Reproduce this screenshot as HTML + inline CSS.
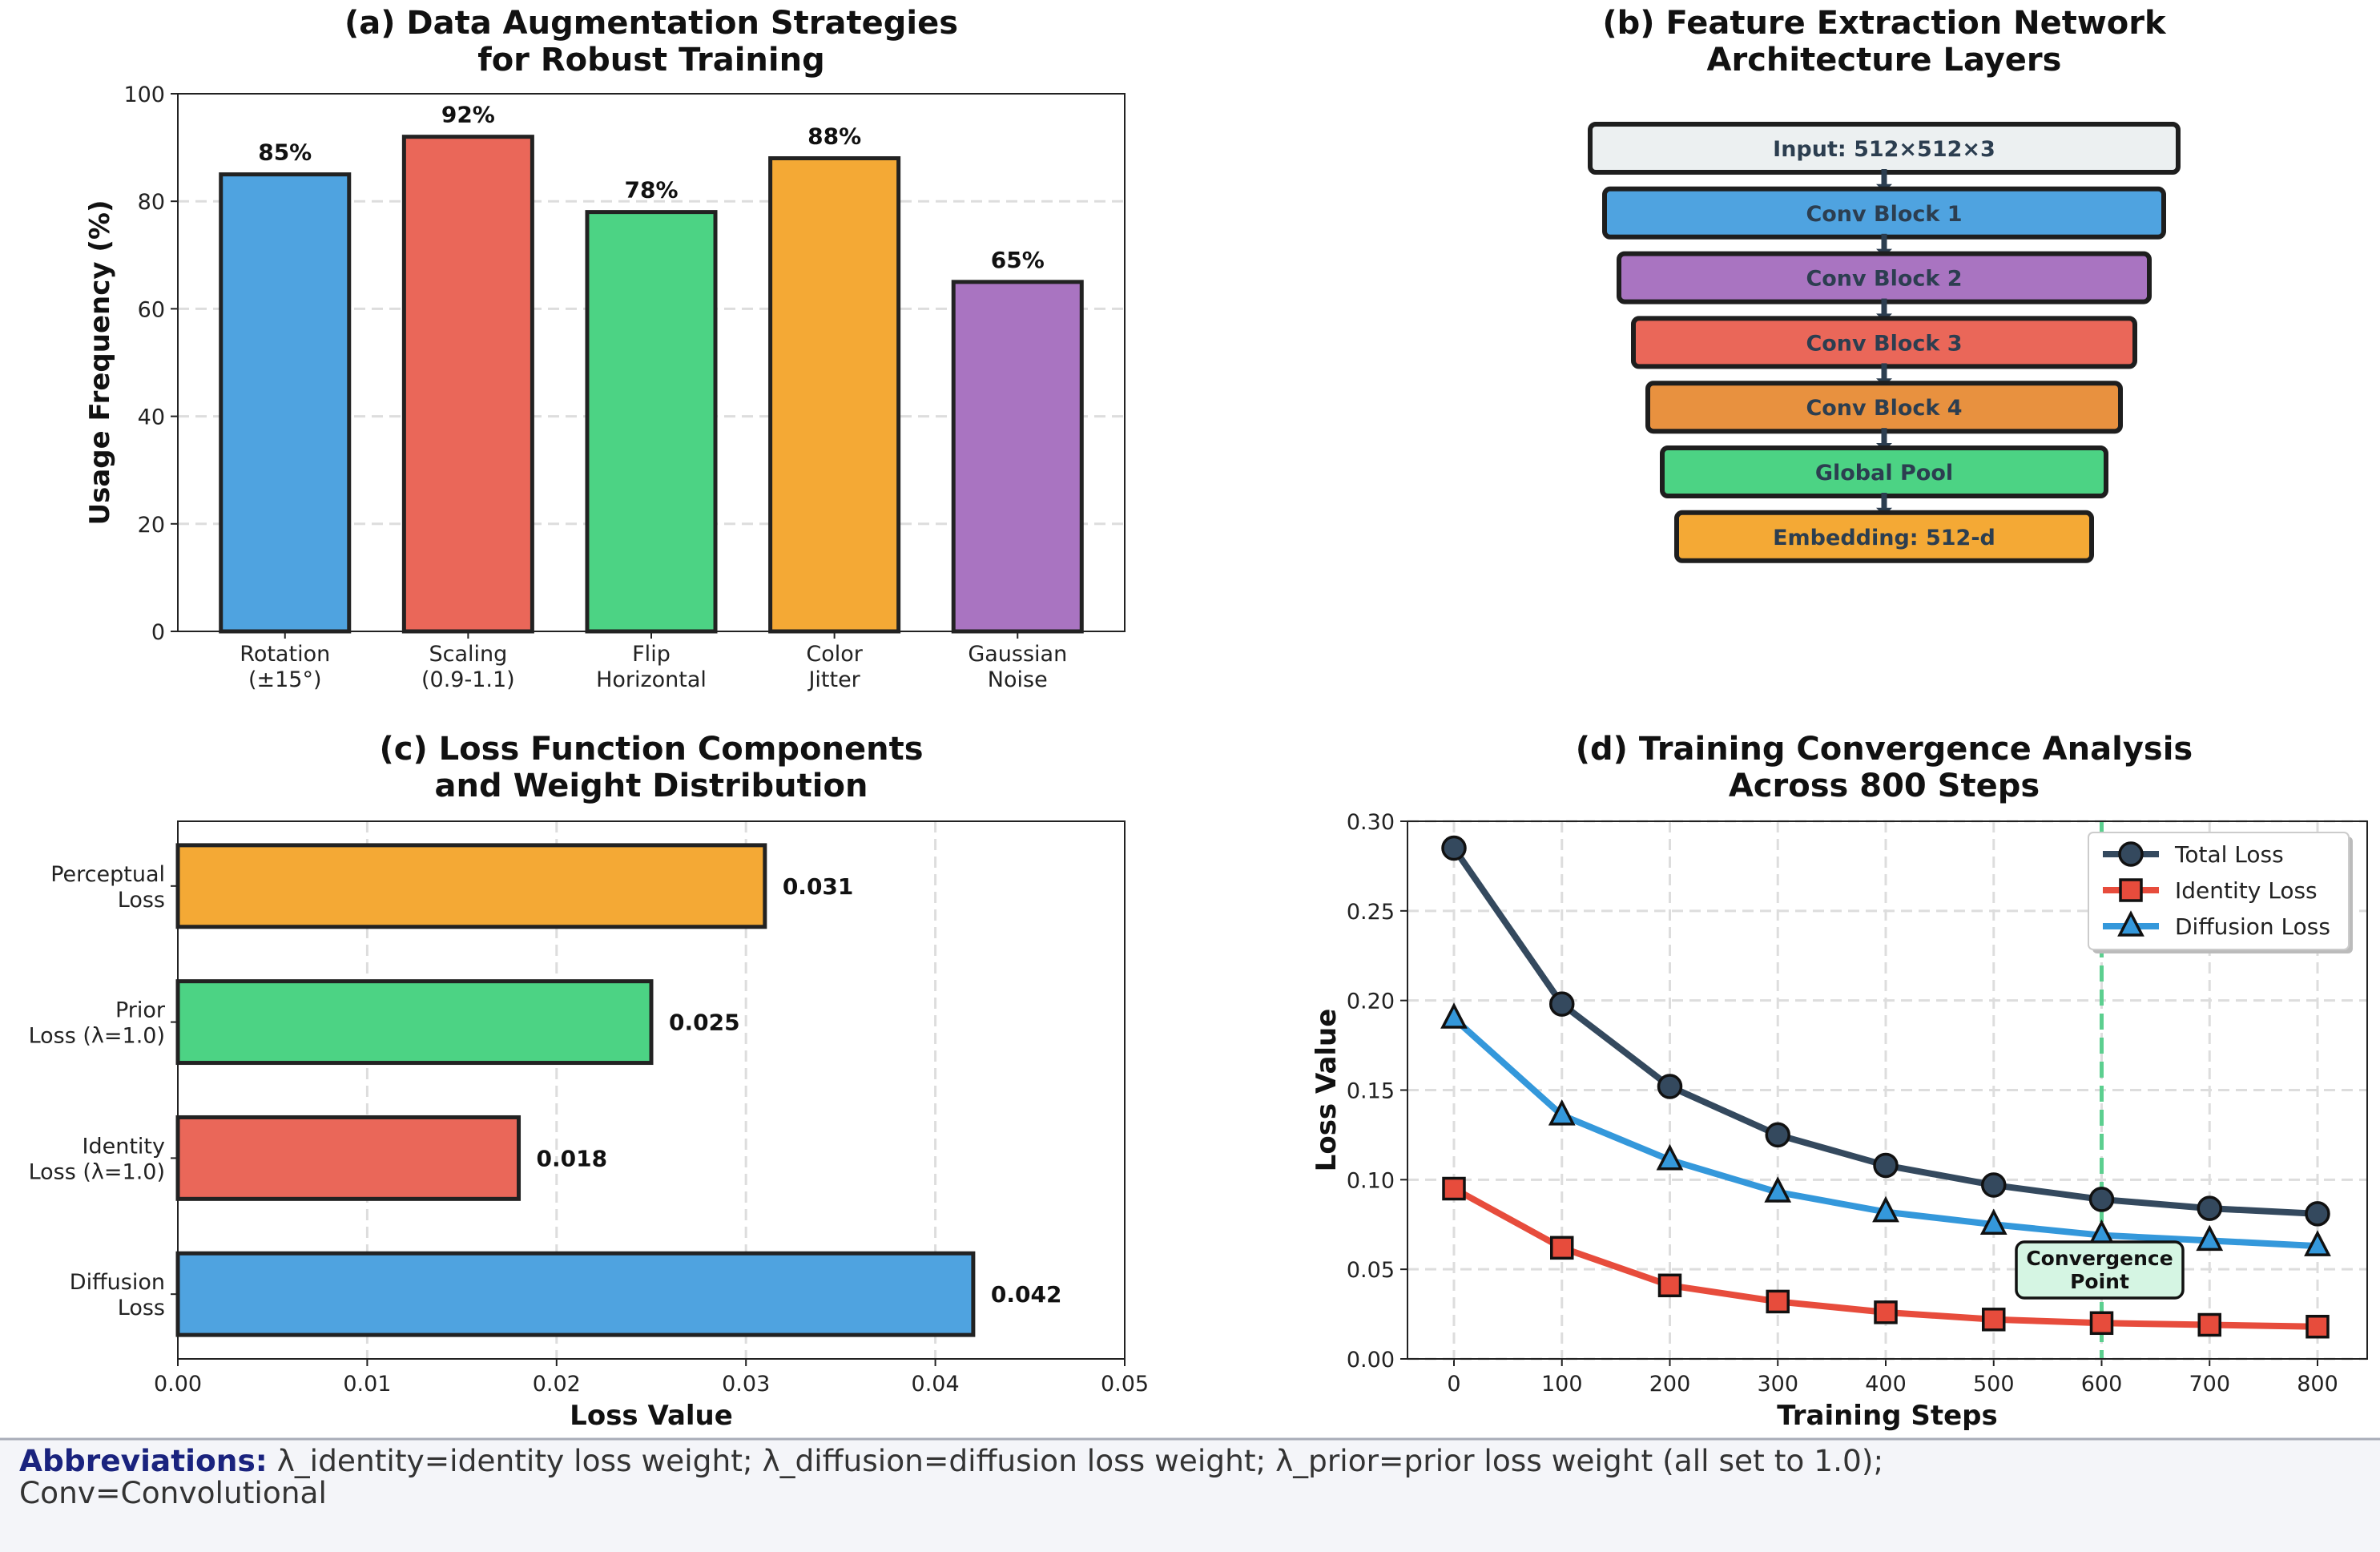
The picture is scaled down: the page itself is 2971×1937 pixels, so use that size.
<!DOCTYPE html>
<html><head><meta charset="utf-8">
<style>
html,body{margin:0;padding:0;background:#fff;}
svg{display:block;font-family:"DejaVu Sans","Liberation Sans",sans-serif;}
</style></head>
<body>
<svg id="fig" width="2971" height="1937" viewBox="0 0 2971 1937" xmlns="http://www.w3.org/2000/svg">
<rect x="0" y="0" width="2971" height="1937" fill="#fff"/>
<g id="pa"></g>
<g id="pb"></g>
<g id="pc"></g>
<g id="pd"></g>
<g>
<rect x="0" y="1795" width="2971" height="142" fill="#f4f5f9"/>
<line x1="0" y1="1796" x2="2971" y2="1796" stroke="#a8adb8" stroke-width="3"/>
<text x="24" y="1836" font-size="37.5" fill="#333"><tspan font-weight="bold" fill="#1a237e">Abbreviations:</tspan> λ_identity=identity loss weight; λ_diffusion=diffusion loss weight; λ_prior=prior loss weight (all set to 1.0);</text>
<text x="24" y="1876" font-size="37.5" fill="#333">Conv=Convolutional</text>
</g>
</svg>
<script>
// Panel A data
const augCategories = ["Rotation\n(±15°)", "Scaling\n(0.9-1.1)", "Flip\nHorizontal", "Color\nJitter", "Gaussian\nNoise"];
const augValues = [85, 92, 78, 88, 65];
const augColors = ["#4fa3e0", "#ea6759", "#4cd384", "#f4a935", "#a974c1"];
const augTicks = [0, 20, 40, 60, 80, 100];
// Panel B data
const layerNames = ["Input: 512×512×3", "Conv Block 1", "Conv Block 2", "Conv Block 3", "Conv Block 4", "Global Pool", "Embedding: 512-d"];
const layerColors = ["#ecf0f1", "#4fa3e0", "#a974c1", "#ea6759", "#e8913f", "#4cd384", "#f4a935"];
// Panel C data
const lossNames = ["Diffusion\nLoss", "Identity\nLoss (λ=1.0)", "Prior\nLoss (λ=1.0)", "Perceptual\nLoss"];
const lossValues = [0.042, 0.018, 0.025, 0.031];
const lossColors = ["#4fa3e0", "#ea6759", "#4cd384", "#f4a935"];
const lossTicks = [0, 0.01, 0.02, 0.03, 0.04, 0.05];
// Panel D data
const steps = [0, 100, 200, 300, 400, 500, 600, 700, 800];
const totalLoss = [0.285, 0.198, 0.152, 0.125, 0.108, 0.097, 0.089, 0.084, 0.081];
const identityLoss = [0.095, 0.062, 0.041, 0.032, 0.026, 0.022, 0.020, 0.019, 0.018];
const diffusionLoss = [0.190, 0.136, 0.111, 0.093, 0.082, 0.075, 0.069, 0.066, 0.063];
const dYTicks = [0, 0.05, 0.10, 0.15, 0.20, 0.25, 0.30];
const dXTicks = [0, 100, 200, 300, 400, 500, 600, 700, 800];
const convergenceStep = 600;

const NS = "http://www.w3.org/2000/svg";
function mk(parent, tag, attrs, text) {
  const e = document.createElementNS(NS, tag);
  for (const k in attrs) e.setAttribute(k, attrs[k]);
  if (text !== undefined) e.textContent = text;
  parent.appendChild(e);
  return e;
}
function multiText(parent, x, y, lines, size, anchor, lh, extra) {
  const t = mk(parent, "text", Object.assign({x: x, y: y, "font-size": size, "text-anchor": anchor, fill: "#222"}, extra || {}));
  lines.forEach((l, i) => { mk(t, "tspan", {x: x, dy: i === 0 ? 0 : lh}, l); });
  return t;
}

// ---------- Panel A ----------
(function () {
  const g = document.getElementById("pa");
  const L = 222, R = 1404, T = 117, B = 788;
  const n = augValues.length;
  const xs = i => L + (i + 0.585) / (n - 1 + 1.17) * (R - L);
  const ys = v => B - v / 100 * (B - T);
  const bw = 0.7 / (n - 1 + 1.17) * (R - L);
  const t1 = mk(g, "text", {x: 813, y: 42, "font-size": 40, "font-weight": "bold", "text-anchor": "middle", fill: "#111"}, "(a) Data Augmentation Strategies");
  
  const t2 = mk(g, "text", {x: 813, y: 88, "font-size": 40, "font-weight": "bold", "text-anchor": "middle", fill: "#111"}, "for Robust Training");
  
  augTicks.forEach(v => {
    if (v > 0 && v < 100) {
      const gl = mk(g, "line", {x1: L, x2: R, y1: ys(v), y2: ys(v), stroke: "#ddd", "stroke-width": 3, "stroke-dasharray": "14,8"});
      
    }
    mk(g, "line", {x1: L - 9, x2: L, y1: ys(v), y2: ys(v), stroke: "#222", "stroke-width": 2});
    const tl = mk(g, "text", {x: L - 16, y: ys(v) + 10, "font-size": 27, "text-anchor": "end", fill: "#222"}, String(v));
    
  });
  augValues.forEach((v, i) => {
    const b = mk(g, "rect", {x: xs(i) - bw / 2, y: ys(v), width: bw, height: ys(0) - ys(v), fill: augColors[i], stroke: "#222", "stroke-width": 5});
    
    
    const vl = mk(g, "text", {x: xs(i), y: ys(v) - 18, "font-size": 28, "font-weight": "bold", "text-anchor": "middle", fill: "#111"}, v + "%");
    
    mk(g, "line", {x1: xs(i), x2: xs(i), y1: B, y2: B + 9, stroke: "#222", "stroke-width": 2});
    const cl = multiText(g, xs(i), B + 37, augCategories[i].split("\n"), 27, "middle", 32);
    
  });
  const fr = mk(g, "rect", {x: L, y: T, width: R - L, height: B - T, fill: "none", stroke: "#222", "stroke-width": 2});
  
  const yl = mk(g, "text", {x: 0, y: 0, "font-size": 34, "font-weight": "bold", "text-anchor": "middle", fill: "#111", transform: "translate(136," + ((T + B) / 2) + ") rotate(-90)"}, "Usage Frequency (%)");
  
})();

// ---------- Panel B ----------
(function () {
  const g = document.getElementById("pb");
  const cx = 2352;
  const t1 = mk(g, "text", {x: cx, y: 42, "font-size": 40, "font-weight": "bold", "text-anchor": "middle", fill: "#111"}, "(b) Feature Extraction Network");
  
  const t2 = mk(g, "text", {x: cx, y: 88, "font-size": 40, "font-weight": "bold", "text-anchor": "middle", fill: "#111"}, "Architecture Layers");
  
  const top0 = 155, step = 80.8, h = 60, w0 = 734, dw = 36;
  layerNames.forEach((name, i) => {
    const w = w0 - i * dw;
    const y = top0 + i * step;
    if (i > 0) {
      const a = mk(g, "line", {x1: cx, x2: cx, y1: y - step + h - 4, y2: y + 2, stroke: "#2c3e50", "stroke-width": 7});
      
      const ah = mk(g, "polygon", {points: (cx - 10) + "," + (y - 6) + " " + (cx + 10) + "," + (y - 6) + " " + cx + "," + (y + 4), fill: "#2c3e50"});
      
    }
    const r = mk(g, "rect", {x: cx - w / 2, y: y, width: w, height: h, rx: 7, fill: layerColors[i], stroke: "#1e1e1e", "stroke-width": 6});
    
    
    const t = mk(g, "text", {x: cx, y: y + h / 2 + 10, "font-size": 27, "font-weight": "bold", "text-anchor": "middle", fill: "#2c3e50"}, name);
    
  });
})();

// ---------- Panel C ----------
(function () {
  const g = document.getElementById("pc");
  const L = 222, R = 1404, T = 1025, B = 1696;
  const xs = v => L + v / 0.05 * (R - L);
  const n = lossValues.length;
  const m = 0.476;
  const ys = i => B - (i + m) / (n - 1 + 2 * m) * (B - T);
  const bh = 0.6 / (n - 1 + 2 * m) * (B - T);
  const t1 = mk(g, "text", {x: 813, y: 948, "font-size": 40, "font-weight": "bold", "text-anchor": "middle", fill: "#111"}, "(c) Loss Function Components");
  
  const t2 = mk(g, "text", {x: 813, y: 994, "font-size": 40, "font-weight": "bold", "text-anchor": "middle", fill: "#111"}, "and Weight Distribution");
  
  lossTicks.forEach(v => {
    if (v > 0 && v < 0.05) {
      const gl = mk(g, "line", {x1: xs(v), x2: xs(v), y1: T, y2: B, stroke: "#ddd", "stroke-width": 3, "stroke-dasharray": "14,8"});
      
    }
    mk(g, "line", {x1: xs(v), x2: xs(v), y1: B, y2: B + 9, stroke: "#222", "stroke-width": 2});
    const tl = mk(g, "text", {x: xs(v), y: B + 40, "font-size": 27, "text-anchor": "middle", fill: "#222"}, v.toFixed(2));
    
  });
  lossValues.forEach((v, i) => {
    const b = mk(g, "rect", {x: L, y: ys(i) - bh / 2, width: xs(v) - L, height: bh, fill: lossColors[i], stroke: "#222", "stroke-width": 5});
    
    
    const vl = mk(g, "text", {x: xs(v) + 22, y: ys(i) + 10, "font-size": 28, "font-weight": "bold", fill: "#111"}, v.toFixed(3));
    
    mk(g, "line", {x1: L - 9, x2: L, y1: ys(i), y2: ys(i), stroke: "#222", "stroke-width": 2});
    const cl = multiText(g, L - 16, ys(i) - 6, lossNames[i].split("\n"), 27, "end", 32);
    
  });
  const fr = mk(g, "rect", {x: L, y: T, width: R - L, height: B - T, fill: "none", stroke: "#222", "stroke-width": 2});
  
  const xl = mk(g, "text", {x: (L + R) / 2, y: B + 82, "font-size": 34, "font-weight": "bold", "text-anchor": "middle", fill: "#111"}, "Loss Value");
  
})();

// ---------- Panel D ----------
(function () {
  const g = document.getElementById("pd");
  const L = 1757, R = 2955, T = 1025, B = 1696;
  const x0 = 1815, x800 = 2893;
  const xs = v => x0 + v / 800 * (x800 - x0);
  const ys = v => B - v / 0.30 * (B - T);
  const cx = 2352;
  const t1 = mk(g, "text", {x: cx, y: 948, "font-size": 40, "font-weight": "bold", "text-anchor": "middle", fill: "#111"}, "(d) Training Convergence Analysis");
  
  const t2 = mk(g, "text", {x: cx, y: 994, "font-size": 40, "font-weight": "bold", "text-anchor": "middle", fill: "#111"}, "Across 800 Steps");
  
  dXTicks.forEach(v => {
    const gl = mk(g, "line", {x1: xs(v), x2: xs(v), y1: T, y2: B, stroke: "#ddd", "stroke-width": 3, "stroke-dasharray": "14,8"});
    
    mk(g, "line", {x1: xs(v), x2: xs(v), y1: B, y2: B + 9, stroke: "#222", "stroke-width": 2});
    const tl = mk(g, "text", {x: xs(v), y: B + 40, "font-size": 27, "text-anchor": "middle", fill: "#222"}, String(v));
    
  });
  dYTicks.forEach(v => {
    const gl = mk(g, "line", {x1: L, x2: R, y1: ys(v), y2: ys(v), stroke: "#ddd", "stroke-width": 3, "stroke-dasharray": "14,8"});
    
    mk(g, "line", {x1: L - 9, x2: L, y1: ys(v), y2: ys(v), stroke: "#222", "stroke-width": 2});
    const tl = mk(g, "text", {x: L - 16, y: ys(v) + 10, "font-size": 27, "text-anchor": "end", fill: "#222"}, v.toFixed(2));
    
  });
  const vl = mk(g, "line", {x1: xs(convergenceStep), x2: xs(convergenceStep), y1: T, y2: B, stroke: "#5ccf8f", "stroke-width": 5, "stroke-dasharray": "20,10"});
  
  function curve(vals, color, marker, name) {
    const pts = steps.map((s, i) => xs(s) + "," + ys(vals[i])).join(" ");
    const pl = mk(g, "polyline", {points: pts, fill: "none", stroke: color, "stroke-width": 8, "stroke-linejoin": "round", "stroke-linecap": "round"});
    
    steps.forEach((s, i) => {
      const m = drawMarker(g, marker, xs(s), ys(vals[i]), color);
      
      
    });
  }
  function drawMarker(p, type, x, y, color) {
    if (type === "o") return mk(p, "circle", {cx: x, cy: y, r: 14, fill: color, stroke: "#111", "stroke-width": 3.5});
    if (type === "s") return mk(p, "rect", {x: x - 13, y: y - 13, width: 26, height: 26, fill: color, stroke: "#111", "stroke-width": 3.5});
    return mk(p, "polygon", {points: (x) + "," + (y - 16) + " " + (x - 14) + "," + (y + 11) + " " + (x + 14) + "," + (y + 11), fill: color, stroke: "#111", "stroke-width": 3.5});
  }
  curve(identityLoss, "#e74c3c", "s", "identity-loss");
  curve(diffusionLoss, "#3498db", "^", "diffusion-loss");
  curve(totalLoss, "#34495e", "o", "total-loss");
  // annotation
  const ab = mk(g, "rect", {x: 2517, y: 1550, width: 208, height: 70, rx: 10, fill: "#d5f5e3", stroke: "#111", "stroke-width": 3.5});
  
  const at = multiText(g, 2621, 1579, ["Convergence", "Point"], 25, "middle", 29, {"font-weight": "bold", fill: "#111"});
  
  // legend
  const lg = mk(g, "g", {});
  
  
  mk(lg, "rect", {x: 2612, y: 1044, width: 325, height: 146, rx: 6, fill: "#bbb"});
  mk(lg, "rect", {x: 2607, y: 1039, width: 325, height: 146, rx: 6, fill: "#fff", stroke: "#ccc", "stroke-width": 2});
  const entries = [["Total Loss", "#34495e", "o"], ["Identity Loss", "#e74c3c", "s"], ["Diffusion Loss", "#3498db", "^"]];
  entries.forEach((e, i) => {
    const y = 1066 + i * 45;
    const eg = mk(lg, "g", {});
    
    
    mk(eg, "line", {x1: 2625, x2: 2695, y1: y, y2: y, stroke: e[1], "stroke-width": 8});
    drawMarker(eg, e[2], 2660, y, e[1]);
    mk(eg, "text", {x: 2715, y: y + 10, "font-size": 28, fill: "#222"}, e[0]);
  });
  const fr = mk(g, "rect", {x: L, y: T, width: R - L, height: B - T, fill: "none", stroke: "#222", "stroke-width": 2});
  
  const xl = mk(g, "text", {x: (L + R) / 2, y: B + 82, "font-size": 34, "font-weight": "bold", "text-anchor": "middle", fill: "#111"}, "Training Steps");
  
  const yl = mk(g, "text", {x: 0, y: 0, "font-size": 34, "font-weight": "bold", "text-anchor": "middle", fill: "#111", transform: "translate(1667," + ((T + B) / 2) + ") rotate(-90)"}, "Loss Value");
  
})();
</script>
</body></html>
